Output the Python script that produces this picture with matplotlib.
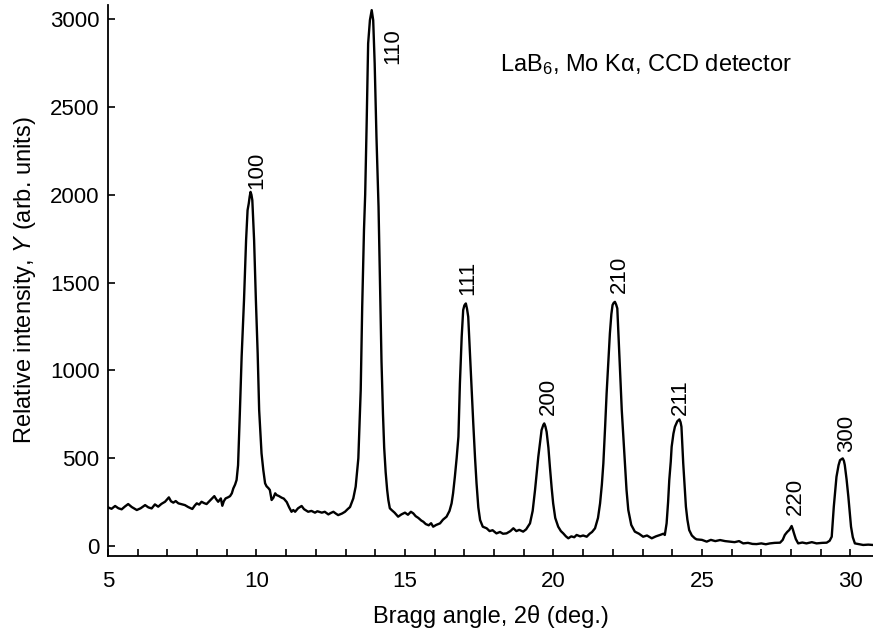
import matplotlib
matplotlib.use("Agg")
import matplotlib.pyplot as plt
from matplotlib.ticker import MultipleLocator

# LaB6 powder pattern (2theta in deg, intensity)
two_theta = [
	5.00, 5.12, 5.24, 5.35, 5.46, 5.57, 5.68, 5.80, 5.97, 6.10, 6.25, 6.36, 6.47, 6.58,
	6.69, 6.80, 6.92, 7.05, 7.12, 7.20, 7.28, 7.37, 7.48, 7.59, 7.70, 7.84, 7.92, 7.99,
	8.07, 8.15, 8.24, 8.32, 8.43, 8.50, 8.58, 8.65, 8.71, 8.80, 8.85, 8.90, 8.96, 9.05,
	9.11, 9.17, 9.22, 9.28, 9.33, 9.38, 9.44, 9.50, 9.58, 9.65, 9.70, 9.74, 9.77, 9.80,
	9.83, 9.86, 9.92, 9.98, 10.04, 10.09, 10.17, 10.23, 10.29, 10.34, 10.40, 10.45,
	10.51, 10.57, 10.63, 10.68, 10.75, 10.85, 10.92, 11.02, 11.10, 11.18, 11.24, 11.30,
	11.40, 11.52, 11.60, 11.74, 11.85, 11.97, 12.05, 12.20, 12.30, 12.42, 12.50, 12.59,
	12.67, 12.75, 12.88, 12.98, 13.07, 13.15, 13.26, 13.34, 13.43, 13.51, 13.56, 13.62,
	13.66, 13.71, 13.76, 13.82, 13.88, 13.93, 13.98, 14.04, 14.11, 14.16, 14.21, 14.26,
	14.30, 14.35, 14.40, 14.44, 14.49, 14.55, 14.65, 14.77, 14.88, 15.00, 15.10, 15.20,
	15.28, 15.36, 15.45, 15.55, 15.62, 15.70, 15.80, 15.88, 15.95, 16.05, 16.18, 16.28,
	16.40, 16.50, 16.57, 16.62, 16.68, 16.74, 16.80, 16.85, 16.91, 16.96, 17.00, 17.05,
	17.09, 17.13, 17.21, 17.30, 17.36, 17.41, 17.47, 17.53, 17.62, 17.75, 17.85, 17.95,
	18.08, 18.20, 18.30, 18.42, 18.55, 18.65, 18.75, 18.85, 18.98, 19.08, 19.21, 19.30,
	19.38, 19.49, 19.60, 19.66, 19.69, 19.73, 19.77, 19.83, 19.88, 19.94, 19.99, 20.06,
	20.16, 20.25, 20.33, 20.42, 20.50, 20.60, 20.70, 20.78, 20.90, 21.00, 21.12, 21.22,
	21.30, 21.40, 21.50, 21.57, 21.63, 21.68, 21.74, 21.79, 21.85, 21.90, 21.95, 21.99,
	22.03, 22.07, 22.11, 22.15, 22.21, 22.26, 22.30, 22.36, 22.41, 22.46, 22.52, 22.62,
	22.74, 22.88, 23.02, 23.15, 23.31, 23.45, 23.59, 23.70, 23.75, 23.81, 23.86, 23.90,
	23.95, 23.98, 24.04, 24.09, 24.17, 24.24, 24.28, 24.31, 24.34, 24.37, 24.42, 24.46,
	24.51, 24.57, 24.66, 24.76, 24.82, 25.00, 25.16, 25.30, 25.45, 25.61, 25.78, 25.94,
	26.10, 26.25, 26.39, 26.55, 26.70, 26.84, 27.00, 27.15, 27.29, 27.45, 27.63, 27.72,
	27.79, 27.87, 27.94, 28.02, 28.06, 28.10, 28.16, 28.24, 28.38, 28.52, 28.70, 28.86,
	29.05, 29.20, 29.30, 29.37, 29.44, 29.53, 29.60, 29.65, 29.74, 29.78, 29.81, 29.87,
	29.93, 30.02, 30.08, 30.15, 30.30, 30.43, 30.60, 30.76,
]
intensity = [
	220, 212, 228, 215, 209, 225, 239, 222, 205, 215, 233, 220, 214, 237,
	224, 240, 252, 277, 255, 247, 256, 243, 238, 233, 222, 211, 230, 243,
	236, 252, 244, 239, 258, 270, 284, 265, 252, 271, 229, 255, 271, 278,
	284, 300, 328, 350, 376, 460, 757, 1077, 1400, 1741, 1912, 1950, 1988, 2016,
	2000, 1969, 1741, 1400, 1097, 774, 528, 432, 357, 340, 330, 319,
	262, 275, 300, 290, 285, 275, 270, 250, 220, 195, 205, 195,
	215, 228, 210, 195, 200, 190, 198, 190, 195, 180, 188, 195,
	185, 176, 185, 195, 210, 222, 271, 338, 500, 888, 1362, 1800,
	2000, 2406, 2861, 2994, 3051, 2994, 2747, 2330, 1931, 1500, 1050, 750,
	560, 420, 320, 262, 215, 205, 190, 167, 180, 190, 178, 195,
	186, 170, 160, 145, 138, 125, 118, 130, 110, 120, 129, 150,
	167, 200, 243, 300, 394, 500, 622, 926, 1191, 1343, 1370, 1381,
	1350, 1305, 1020, 698, 500, 357, 220, 148, 110, 101, 85, 90,
	72, 80, 70, 72, 85, 101, 85, 92, 82, 95, 129, 200,
	319, 508, 660, 690, 698, 680, 650, 560, 451, 330, 243, 160,
	110, 85, 72, 55, 44, 55, 50, 63, 55, 60, 53, 70,
	80, 101, 160, 243, 350, 470, 680, 869, 1050, 1210, 1320, 1372,
	1385, 1390, 1375, 1353, 1115, 930, 774, 600, 451, 320, 205, 120,
	82, 70, 53, 60, 44, 55, 63, 70, 63, 129, 250, 376,
	480, 565, 640, 679, 710, 721, 705, 679, 580, 470, 330, 224,
	150, 91, 60, 44, 38, 35, 25, 35, 28, 34, 28, 25,
	22, 28, 15, 18, 12, 11, 15, 10, 15, 18, 19, 35,
	63, 80, 91, 114, 95, 72, 40, 15, 20, 15, 22, 15,
	18, 19, 30, 53, 224, 394, 460, 489, 499, 485, 461, 380,
	281, 110, 50, 15, 10, 6, 8, 6,
]

# Miller indices and where their labels sit
hkl = ["100", "110", "111", "200", "210", "211", "220", "300"]
hkl_x = [10.00, 14.60, 17.12, 19.83, 22.21, 24.26, 28.16, 29.87]
hkl_y = [2030, 2950, 1430, 745, 1440, 745, 176, 535]
hkl_va = ["bottom", "top", "bottom", "bottom", "bottom", "bottom", "bottom", "bottom"]

plt.rcParams["font.family"] = ["Liberation Sans", "DejaVu Sans"]
plt.rcParams["mathtext.fontset"] = "custom"
plt.rcParams["mathtext.rm"] = "Liberation Sans"
plt.rcParams["mathtext.it"] = "Liberation Sans:italic"

fig = plt.figure(figsize = (8.73, 6.37), dpi = 100)
ax = fig.add_axes([0.1237, 0.1271, 0.8763, 0.8650])

ax.plot(two_theta, intensity, '-', color = "black", lw = 1.7)

for lab, x, y, va in zip(hkl, hkl_x, hkl_y, hkl_va):
	ax.text(x, y, lab, rotation = 90, ha = "center", va = va, fontsize = 16)

ax.text(18.2, 2740, r"LaB$_6$, Mo Kα, CCD detector", fontsize = 17,
		ha = "left", va = "center")

ax.set_xlim(5, 30.76)
ax.set_ylim(-57, 3080)
ax.xaxis.set_major_locator(MultipleLocator(5))
ax.xaxis.set_minor_locator(MultipleLocator(1))
ax.yaxis.set_major_locator(MultipleLocator(500))
ax.tick_params(which = "both", direction = "in", length = 5, width = 1.2,
			   labelsize = 16, pad = 6)
ax.tick_params(axis = "x", which = "major", pad = 11)
ax.spines["top"].set_visible(False)
ax.spines["right"].set_visible(False)
ax.spines["left"].set_linewidth(1.3)
ax.spines["bottom"].set_linewidth(1.3)

ax.set_xlabel(r"Bragg angle, 2θ (deg.)", fontsize = 17, labelpad = 9)
ax.set_ylabel(r"Relative intensity, $Y$ (arb. units)", fontsize = 17, labelpad = 9)

fig.savefig("out.png", dpi = 100)
plt.close()
